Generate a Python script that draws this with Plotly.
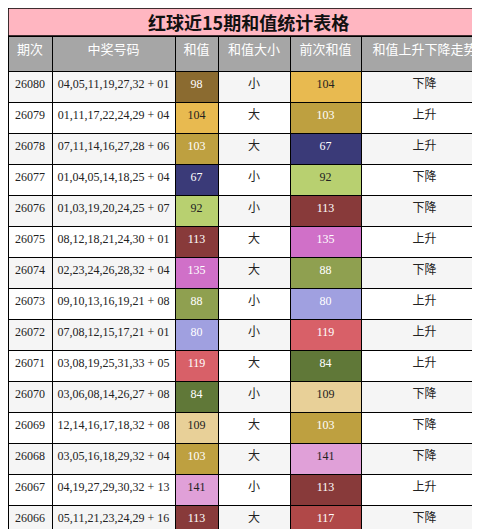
import plotly.graph_objects as go

periods = ["26080", "26079", "26078", "26077", "26076", "26075", "26074", "26073",
           "26072", "26071", "26070", "26069", "26068", "26067", "26066"]
numbers = ["04,05,11,19,27,32 + 01", "01,11,17,22,24,29 + 04", "07,11,14,16,27,28 + 06",
           "01,04,05,14,18,25 + 04", "01,03,19,20,24,25 + 07", "08,12,18,21,24,30 + 01",
           "02,23,24,26,28,32 + 04", "09,10,13,16,19,21 + 08", "07,08,12,15,17,21 + 01",
           "03,08,19,25,31,33 + 05", "03,06,08,14,26,27 + 08", "12,14,16,17,18,32 + 08",
           "03,05,16,18,29,32 + 04", "04,19,27,29,30,32 + 13", "05,11,21,23,24,29 + 16"]
sums = [98, 104, 103, 67, 92, 113, 135, 88, 80, 119, 84, 109, 103, 141, 113]
sizes = ["小", "大", "大", "小", "小", "大", "大", "小", "小", "大", "小", "大", "大", "小", "大"]
prev_sums = [104, 103, 67, 92, 113, 135, 88, 80, 119, 84, 109, 103, 141, 113, 117]
trends = ["下降", "上升", "上升", "下降", "下降", "上升", "下降", "上升",
          "上升", "上升", "下降", "下降", "下降", "上升", "下降"]
headers = ["期次", "中奖号码", "和值", "和值大小", "前次和值", "和值上升下降走势"]

value_colors = {98: "#8b6b30", 104: "#e8ba50", 103: "#bea040", 67: "#3a3a78", 92: "#b8d070",
                113: "#883a3a", 135: "#d070c8", 88: "#8fa050", 80: "#a0a0e0", 119: "#d86068",
                84: "#607838", 109: "#e8d098", 141: "#e0a0d8", 117: "#b04848"}
light = {104, 92, 109, 141}

def txt(v):
    return "#222" if v in light else "white"

n = len(periods)
row_bg = ["#f5f5f5" if i % 2 == 0 else "white" for i in range(n)]
fill = [row_bg, row_bg, [value_colors[v] for v in sums], row_bg,
        [value_colors[v] for v in prev_sums], row_bg]
fcol = [["#222"] * n, ["#222"] * n, [txt(v) for v in sums], ["#222"] * n,
        [txt(v) for v in prev_sums], ["#222"] * n]

# non-breaking spaces so the numbers stay on one line
numbers_nb = [s.replace(" ", "\u00a0") for s in numbers]

font = "Liberation Serif, Noto Sans CJK SC"
fig = go.Figure(go.Table(
    domain=dict(x=[0, 1], y=[0, 1 - 28 / 529]),
    columnwidth=[44, 123, 43, 72, 71, 127],
    header=dict(values=headers, fill_color="#a6a6a6", height=35, align="center",
                line=dict(color="black", width=1),
                font=dict(family="Noto Sans CJK SC", size=13, color="white")),
    cells=dict(values=[periods, numbers_nb, sums, sizes, prev_sums, trends],
               fill_color=fill, height=31, align="center",
               line=dict(color="black", width=1),
               font=dict(family=font, size=12, color=fcol)),
))
fig.add_shape(type="rect", xref="paper", yref="paper", x0=0, x1=1, y0=1 - 28 / 529, y1=1,
              fillcolor="#ffb6c1", line=dict(color="black", width=1.5))
fig.add_annotation(text="<b>红球近15期和值统计表格</b>", xref="paper", yref="paper",
                   x=0.5, y=1 - 14 / 529, yanchor="middle", showarrow=False,
                   font=dict(family="Noto Sans CJK SC", size=18, color="#111"))
fig.update_layout(width=480, height=529, margin=dict(l=0, r=0, t=0, b=0),
                  paper_bgcolor="white")
fig.write_html("out.html")
